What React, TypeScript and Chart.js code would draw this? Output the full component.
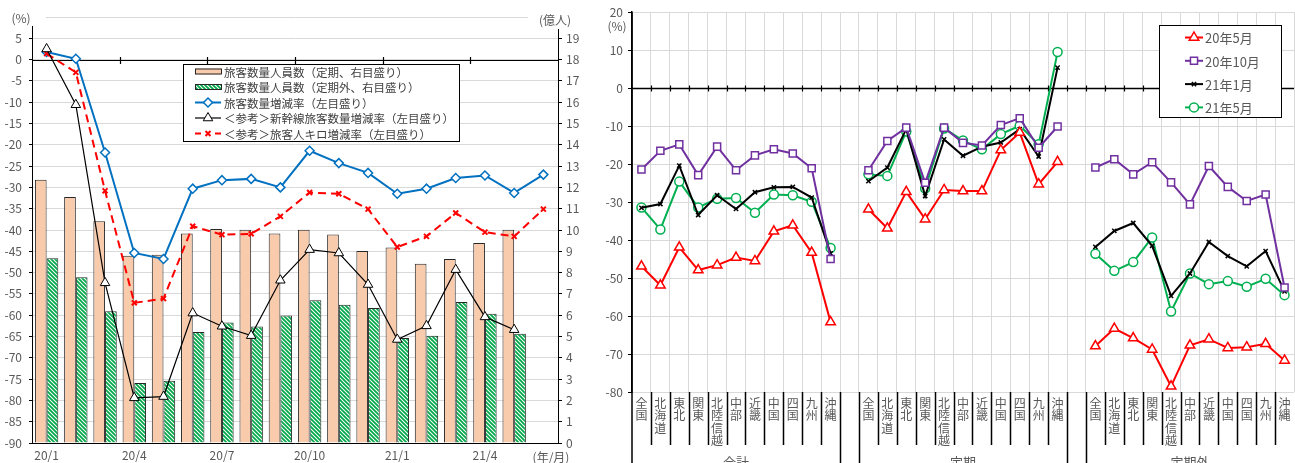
import { useEffect, useRef } from 'react';
import { Chart, registerables } from 'chart.js';

Chart.register(...registerables);

const FONT = '"Noto Sans CJK JP", "Noto Sans", sans-serif';
const TEXT = '#595959';
const GRID = '#d9d9d9';

Chart.defaults.font.family = FONT;

// ---------- left panel: monthly ridership (2020/1 – 2021/6) ----------
const months = ['20/1', '20/2', '20/3', '20/4', '20/5', '20/6', '20/7', '20/8', '20/9', '20/10', '20/11', '20/12', '21/1', '21/2', '21/3', '21/4', '21/5', '21/6'];
const monthTickLabels = ['20/1', '', '', '20/4', '', '', '20/7', '', '', '20/10', '', '', '21/1', '', '', '21/4', '', ''];
// 億人 (right axis)
const commuterRiders = [12.36, 11.55, 10.41, 8.79, 8.84, 9.83, 10.05, 10.01, 9.83, 10.01, 9.79, 9.01, 9.18, 8.42, 8.64, 9.39, 10.01, null];
const nonCommuterRiders = [8.67, 7.78, 6.18, 2.82, 2.92, 5.21, 5.66, 5.47, 5.99, 6.7, 6.49, 6.34, 4.93, 5.04, 6.62, 6.07, 5.13, null];
// % (left axis)
const ridersChangePct = [1.8, 0.2, -21.8, -45.4, -46.8, -30.3, -28.3, -28.0, -30.0, -21.4, -24.3, -26.6, -31.5, -30.3, -27.8, -27.2, -31.3, -27.0];
const shinkansenChangePct = [2.5, -10.6, -52.4, -79.4, -79.1, -59.5, -62.6, -64.8, -51.8, -44.6, -45.4, -52.8, -65.7, -62.5, -49.3, -60.4, -63.4, null];
const passengerKmChangePct = [1.4, -3.0, -30.8, -57.1, -56.1, -39.1, -41.1, -40.9, -36.8, -31.2, -31.5, -35.1, -44.0, -41.5, -36.0, -40.5, -41.5, -35.1];

// ---------- right panel: change by region (%) ----------
const regions = ['全国', '北海道', '東北', '関東', '北陸信越', '中部', '近畿', '中国', '四国', '九州', '沖縄'];
const groups = ['合計', '定期', '定期外'];

const may20Total = [-46.9, -51.9, -41.9, -47.9, -46.6, -44.6, -45.5, -37.7, -36.1, -43.3, -61.6];
const may20Commuter = [-31.9, -36.9, -27.3, -34.5, -26.8, -27.1, -27.1, -16.3, -11.7, -25.3, -19.4];
const may20NonCommuter = [-67.9, -63.3, -65.8, -68.8, -78.5, -67.7, -66.1, -68.4, -68.2, -67.3, -71.7];

const oct20Total = [-21.4, -16.5, -14.8, -22.9, -15.4, -21.6, -17.7, -16.1, -17.2, -21.1, -45.0];
const oct20Commuter = [-21.6, -13.9, -10.4, -24.9, -10.4, -14.4, -15.1, -9.7, -7.9, -15.7, -10.1];
const oct20NonCommuter = [-20.9, -18.7, -22.7, -19.5, -24.8, -30.6, -20.5, -26.0, -29.7, -28.0, -52.5];

const jan21Total = [-31.5, -30.5, -20.4, -33.4, -28.2, -31.8, -27.4, -26.1, -26.0, -28.8, -43.5];
const jan21Commuter = [-24.5, -20.9, -10.8, -28.4, -13.5, -17.8, -15.4, -14.3, -10.8, -18.0, 5.4];
const jan21NonCommuter = [-41.8, -37.6, -35.5, -41.5, -54.7, -48.8, -40.5, -44.2, -46.9, -42.9, -53.5];

const may21Total = [-31.4, -37.2, -24.6, -31.4, -29.1, -28.9, -32.8, -28.0, -28.2, -29.9, -42.1];
const may21Commuter = [-22.7, -23.1, -11.4, -26.4, -10.6, -13.8, -16.1, -12.1, -9.9, -14.8, 9.5];
const may21NonCommuter = [-43.6, -48.1, -45.8, -39.3, -58.8, -48.8, -51.6, -50.8, -52.3, -50.2, -54.5];

// one blank category separates the three groups
const regionCategories = groups.flatMap((_, gi) => (gi < groups.length - 1 ? [...regions, ''] : [...regions]));
const joinGroups = (a: number[], b: number[], c: number[]) => [...a, null, ...b, null, ...c];

type MarkerStyle = 'rectRot' | 'triangle' | 'crossRot' | 'rect' | 'circle';

function drawMarker(ctx: CanvasRenderingContext2D, style: MarkerStyle, x: number, y: number, r: number, stroke: string, lw: number) {
  ctx.save();
  ctx.setLineDash([]);
  ctx.lineWidth = lw;
  ctx.strokeStyle = stroke;
  ctx.fillStyle = '#fff';
  ctx.beginPath();
  if (style === 'rectRot') {
    ctx.moveTo(x, y - r);
    ctx.lineTo(x + r, y);
    ctx.lineTo(x, y + r);
    ctx.lineTo(x - r, y);
    ctx.closePath();
    ctx.fill();
    ctx.stroke();
  } else if (style === 'triangle') {
    ctx.moveTo(x, y - r);
    ctx.lineTo(x + r * 0.866, y + r * 0.5);
    ctx.lineTo(x - r * 0.866, y + r * 0.5);
    ctx.closePath();
    ctx.fill();
    ctx.stroke();
  } else if (style === 'rect') {
    const s = r * Math.SQRT1_2;
    ctx.rect(x - s, y - s, 2 * s, 2 * s);
    ctx.fill();
    ctx.stroke();
  } else if (style === 'circle') {
    ctx.arc(x, y, r, 0, Math.PI * 2);
    ctx.fill();
    ctx.stroke();
  } else {
    const d = r * Math.SQRT1_2;
    ctx.moveTo(x - d, y - d);
    ctx.lineTo(x + d, y + d);
    ctx.moveTo(x + d, y - d);
    ctx.lineTo(x - d, y + d);
    ctx.stroke();
  }
  ctx.restore();
}

function makeHatch(): CanvasPattern | string {
  const c = document.createElement('canvas');
  c.width = 4;
  c.height = 4;
  const g = c.getContext('2d');
  if (!g) return '#00B050';
  g.fillStyle = '#fff';
  g.fillRect(0, 0, 4, 4);
  g.strokeStyle = '#00A84A';
  g.lineWidth = 1.8;
  g.beginPath();
  g.moveTo(-1, -1);
  g.lineTo(5, 5);
  g.moveTo(-1, 3);
  g.lineTo(1, 5);
  g.moveTo(3, -1);
  g.lineTo(5, 1);
  g.stroke();
  return g.createPattern(c, 'repeat') || '#00B050';
}

// zero line with tick marks, units, month-axis suffix and the boxed legend
const leftDecor = {
  id: 'leftDecor',
  beforeDatasetsDraw(chart: any) {
    const { ctx, chartArea: a, scales } = chart;
    const y0 = Math.round(scales.y.getPixelForValue(0)) + 0.5;
    const w = (a.right - a.left) / months.length;
    ctx.save();
    ctx.strokeStyle = '#000';
    ctx.lineWidth = 1.2;
    ctx.beginPath();
    ctx.moveTo(a.left, y0);
    ctx.lineTo(a.right, y0);
    for (let k = 3; k < months.length; k += 3) {
      const bx = Math.round(a.left + k * w) + 0.5;
      ctx.moveTo(bx, y0 - 3.5);
      ctx.lineTo(bx, y0 + 3.5);
    }
    ctx.stroke();
    ctx.restore();
  },
  afterDraw(chart: any) {
    const { ctx, chartArea: a } = chart;
    ctx.save();
    ctx.fillStyle = '#fff';
    ctx.fillRect(0, 8, a.left + 14, a.top + 9 - 8);
    ctx.fillRect(a.right - 30, 8, 70, a.top + 12 - 8);
    ctx.fillStyle = TEXT;
    ctx.font = `12px ${FONT}`;
    ctx.textBaseline = 'middle';
    ctx.textAlign = 'center';
    ctx.fillText('(%)', 21, a.top + 1);
    ctx.fillText('(億人)', a.right - 3, a.top + 3);
    ctx.fillText('(年/月)', a.right - 7, a.bottom + 14);

    // legend
    const bx = 183.5, by = 64.5, bw = 276, bh = 77;
    ctx.fillStyle = '#fff';
    ctx.fillRect(bx, by, bw, bh);
    ctx.strokeStyle = '#000';
    ctx.lineWidth = 1;
    ctx.strokeRect(bx, by, bw, bh);
    ctx.font = `11.5px ${FONT}`;
    ctx.textAlign = 'left';
    const ds = chart.data.datasets;
    ds.forEach((d: any, i: number) => {
      const ly = 71.5 + i * 15.5;
      const sx0 = 195, sx1 = 221;
      if (d.type === 'bar') {
        ctx.fillStyle = d.backgroundColor;
        ctx.fillRect(sx0, ly - 3, sx1 - sx0, 6);
        ctx.strokeStyle = '#262626';
        ctx.lineWidth = 1;
        ctx.strokeRect(sx0 + 0.5, ly - 2.5, sx1 - sx0, 5);
      } else {
        ctx.save();
        ctx.strokeStyle = d.borderColor;
        ctx.lineWidth = d.borderWidth;
        ctx.beginPath();
        if (d.borderDash) {
          ctx.moveTo(sx0, ly);
          ctx.lineTo(sx0 + 6, ly);
          ctx.moveTo(sx1 - 6, ly);
          ctx.lineTo(sx1, ly);
        } else {
          ctx.moveTo(sx0, ly);
          ctx.lineTo(sx1, ly);
        }
        ctx.stroke();
        ctx.restore();
        drawMarker(ctx, d.pointStyle, (sx0 + sx1) / 2, ly, d.pointRadius, d.pointBorderColor, d.pointBorderWidth);
      }
      ctx.fillStyle = '#404040';
      ctx.fillText(d.label, 224, ly + 1);
    });
    ctx.restore();
  },
};

// zero line, multi-level region / group labels and legend
const rightDecor = {
  id: 'rightDecor',
  beforeDatasetsDraw(chart: any) {
    const { ctx, chartArea: a, scales } = chart;
    const y0 = Math.round(scales.y.getPixelForValue(0)) + 0.5;
    const n = regionCategories.length;
    const w = (a.right - a.left) / n;
    ctx.save();
    ctx.strokeStyle = '#000';
    ctx.lineWidth = 1.5;
    ctx.beginPath();
    ctx.moveTo(a.left, y0);
    ctx.lineTo(a.right, y0);
    ctx.stroke();
    ctx.lineWidth = 1.2;
    ctx.beginPath();
    for (let k = 1; k < n; k++) {
      const bx = Math.round(a.left + k * w) + 0.5;
      ctx.moveTo(bx, y0 - 3);
      ctx.lineTo(bx, y0 + 3);
    }
    ctx.stroke();
    ctx.restore();
  },
  afterDraw(chart: any) {
    const { ctx, chartArea: a, scales, height } = chart;
    const n = regionCategories.length;
    const w = (a.right - a.left) / n;
    ctx.save();

    // separators below the plot
    ctx.strokeStyle = '#000';
    ctx.lineWidth = 1.5;
    ctx.beginPath();
    ctx.moveTo(a.left, a.top);
    ctx.lineTo(a.left, height);
    for (let k = 1; k < n; k++) {
      const bx = Math.round(a.left + k * w) + 0.5;
      const groupEdge = regionCategories[k - 1] === '' || regionCategories[k] === '';
      ctx.moveTo(bx, a.bottom);
      ctx.lineTo(bx, groupEdge ? height : a.bottom + 53);
    }
    ctx.stroke();

    // vertical region names
    ctx.fillStyle = TEXT;
    ctx.font = `12px ${FONT}`;
    ctx.textAlign = 'center';
    ctx.textBaseline = 'middle';
    regionCategories.forEach((lab, i) => {
      const cx = scales.x.getPixelForValue(i);
      Array.from(lab).forEach((ch, j) => ctx.fillText(ch, cx, a.bottom + 11 + j * 12.5));
    });

    // group names
    ctx.font = `13px ${FONT}`;
    groups.forEach((g, gi) => {
      const cx = a.left + w * (gi * (regions.length + 1) + regions.length / 2);
      ctx.fillText(g, cx, a.bottom + 70);
    });

    // unit
    ctx.font = `12px ${FONT}`;
    ctx.fillText('(%)', 27, a.top + 14);

    // legend
    const lx = 569.5, ly = 25.5, lw = 122, lh = 92;
    ctx.fillStyle = '#fff';
    ctx.fillRect(lx, ly, lw, lh);
    ctx.strokeStyle = '#000';
    ctx.lineWidth = 1;
    ctx.strokeRect(lx, ly, lw, lh);
    ctx.font = `13px ${FONT}`;
    ctx.textAlign = 'left';
    chart.data.datasets.forEach((d: any, i: number) => {
      const yy = 37.5 + i * 23.3;
      ctx.strokeStyle = d.borderColor;
      ctx.lineWidth = d.borderWidth;
      ctx.beginPath();
      ctx.moveTo(595, yy);
      ctx.lineTo(613, yy);
      ctx.stroke();
      drawMarker(ctx, d.pointStyle, 604, yy, d.pointRadius, d.pointBorderColor, d.pointBorderWidth);
      ctx.fillStyle = TEXT;
      ctx.fillText(d.label, 615, yy + 1);
    });
    ctx.restore();
  },
};

export default function App() {
  const leftRef = useRef<HTMLCanvasElement>(null);
  const rightRef = useRef<HTMLCanvasElement>(null);

  useEffect(() => {
    const hatch = makeHatch();
    const tickFont = { family: FONT, size: 12 };

    const left = new Chart(leftRef.current as HTMLCanvasElement, {
      type: 'bar',
      data: {
        labels: months,
        datasets: [
          {
            type: 'bar',
            label: '旅客数量人員数（定期、右目盛り）',
            data: commuterRiders,
            yAxisID: 'y1',
            backgroundColor: '#F8CBAD',
            borderColor: '#262626',
            borderWidth: 1,
            order: 2,
          },
          {
            type: 'bar',
            label: '旅客数量人員数（定期外、右目盛り）',
            data: nonCommuterRiders,
            yAxisID: 'y1',
            backgroundColor: hatch as any,
            borderColor: '#262626',
            borderWidth: 1,
            order: 2,
          },
          {
            type: 'line',
            label: '旅客数量増減率（左目盛り）',
            data: ridersChangePct,
            yAxisID: 'y',
            borderColor: '#0070C0',
            borderWidth: 2,
            pointStyle: 'rectRot',
            pointRadius: 4.5,
            pointBorderColor: '#0070C0',
            pointBorderWidth: 1.5,
            pointBackgroundColor: '#fff',
            order: 1,
          } as any,
          {
            type: 'line',
            label: '＜参考＞新幹線旅客数量増減率（左目盛り）',
            data: shinkansenChangePct,
            yAxisID: 'y',
            borderColor: '#000',
            borderWidth: 1.2,
            pointStyle: 'triangle',
            pointRadius: 5.5,
            pointBorderColor: '#000',
            pointBorderWidth: 1,
            pointBackgroundColor: '#fff',
            order: 0,
          } as any,
          {
            type: 'line',
            label: '＜参考＞旅客人キロ増減率（左目盛り）',
            data: passengerKmChangePct,
            yAxisID: 'y',
            borderColor: '#FF0000',
            borderWidth: 2,
            borderDash: [8, 5],
            pointStyle: 'crossRot',
            pointRadius: 3.5,
            pointBorderColor: '#FF0000',
            pointBorderWidth: 2,
            order: 0,
          } as any,
        ],
      },
      options: {
        animation: false,
        responsive: true,
        maintainAspectRatio: false,
        layout: { padding: { top: 17, left: 0, right: 0, bottom: 0 } },
        datasets: { bar: { categoryPercentage: 0.8, barPercentage: 1 } },
        plugins: { legend: { display: false }, tooltip: { enabled: false } },
        scales: {
          x: {
            grid: { display: true, drawOnChartArea: false, drawTicks: false },
            border: { display: true, color: '#000', width: 1 },
            ticks: {
              autoSkip: false,
              maxRotation: 0,
              color: TEXT,
              font: tickFont,
              padding: 5,
              callback: (_v: any, i: number) => monthTickLabels[i],
            },
            afterFit: (s: any) => {
              s.height = 20;
            },
          },
          y: {
            position: 'left',
            min: -90,
            max: 10,
            ticks: {
              stepSize: 5,
              color: TEXT,
              font: tickFont,
              padding: 7,
              callback: (v: any) => (v === 10 ? '' : String(v)),
            },
            grid: { color: GRID, tickColor: '#000', tickLength: 3 },
            border: { color: '#000', width: 1 },
            afterFit: (s: any) => {
              s.width = 32;
            },
          },
          y1: {
            position: 'right',
            min: 0,
            max: 20,
            ticks: {
              stepSize: 1,
              color: TEXT,
              font: tickFont,
              padding: 4,
              callback: (v: any) => (v === 20 ? '' : String(v)),
            },
            grid: { drawOnChartArea: false, tickColor: '#000', tickLength: 4 },
            border: { color: '#000', width: 1 },
            afterFit: (s: any) => {
              s.width = 32;
            },
          },
        },
      } as any,
      plugins: [leftDecor],
    });

    const right = new Chart(rightRef.current as HTMLCanvasElement, {
      type: 'line',
      data: {
        labels: regionCategories,
        datasets: [
          {
            label: '20年5月',
            data: joinGroups(may20Total, may20Commuter, may20NonCommuter),
            borderColor: '#FF0000',
            borderWidth: 2,
            pointStyle: 'triangle',
            pointRadius: 5.5,
            pointBorderColor: '#FF0000',
            pointBorderWidth: 1.5,
            pointBackgroundColor: '#fff',
          },
          {
            label: '20年10月',
            data: joinGroups(oct20Total, oct20Commuter, oct20NonCommuter),
            borderColor: '#7030A0',
            borderWidth: 2,
            pointStyle: 'rect',
            pointRadius: 5,
            pointBorderColor: '#7030A0',
            pointBorderWidth: 1.5,
            pointBackgroundColor: '#fff',
          },
          {
            label: '21年1月',
            data: joinGroups(jan21Total, jan21Commuter, jan21NonCommuter),
            borderColor: '#000',
            borderWidth: 2,
            pointStyle: 'crossRot',
            pointRadius: 3,
            pointBorderColor: '#000',
            pointBorderWidth: 1.5,
            pointBackgroundColor: '#fff',
          },
          {
            label: '21年5月',
            data: joinGroups(may21Total, may21Commuter, may21NonCommuter),
            borderColor: '#00B050',
            borderWidth: 2,
            pointStyle: 'circle',
            pointRadius: 4.5,
            pointBorderColor: '#00B050',
            pointBorderWidth: 1.5,
            pointBackgroundColor: '#fff',
          },
        ] as any,
      },
      options: {
        animation: false,
        responsive: true,
        maintainAspectRatio: false,
        layout: { padding: { top: 12, left: 0, right: 0, bottom: 0 } },
        plugins: { legend: { display: false }, tooltip: { enabled: false } },
        scales: {
          x: {
            offset: true,
            grid: { offset: true, color: GRID, drawTicks: false },
            border: { display: false },
            ticks: { display: false },
            afterFit: (s: any) => {
              s.height = 71;
            },
          },
          y: {
            min: -80,
            max: 20,
            ticks: { stepSize: 10, color: TEXT, font: tickFont, padding: 5 },
            grid: { color: GRID, tickColor: '#000', tickLength: 4 },
            border: { color: '#000', width: 1.5 },
            afterFit: (s: any) => {
              s.width = 42;
            },
          },
        },
      } as any,
      plugins: [rightDecor],
    });

    return () => {
      left.destroy();
      right.destroy();
    };
  }, []);

  return (
    <div style={{ position: 'fixed', left: 0, top: 0, width: 1295, height: 463, overflow: 'hidden', background: '#fff' }}>
      <div style={{ position: 'absolute', left: 0, top: 0, width: 590, height: 463 }}>
        <canvas ref={leftRef} />
      </div>
      <div style={{ position: 'absolute', left: 590, top: 0, width: 711, height: 463 }}>
        <canvas ref={rightRef} />
      </div>
    </div>
  );
}
